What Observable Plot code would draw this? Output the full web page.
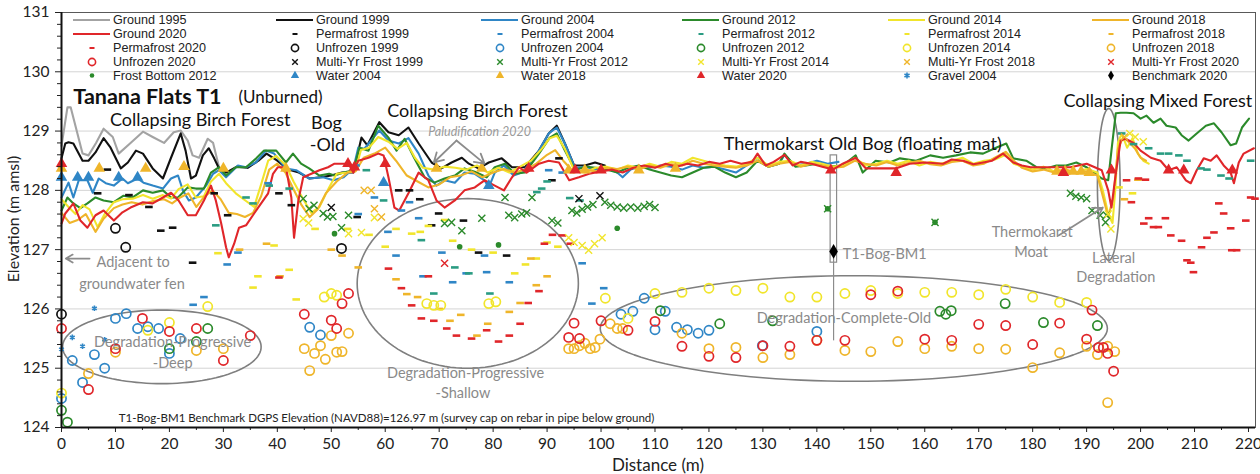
<!DOCTYPE html>
<html><head><meta charset="utf-8">
<script src="https://cdn.jsdelivr.net/npm/d3@7"></script>
<script src="https://cdn.jsdelivr.net/npm/@observablehq/plot@0.6"></script>
<style>body{margin:0;background:#fff} svg{display:block}</style>
</head><body><div id="chart"></div>
<script>
// ---------- colours ----------
const C1995 = "#a3a3a3", C1999 = "#111111", C2004 = "#2f86c6", C2012 = "#2b8a2b",
      C2014 = "#f1e52c", C2018 = "#efb52a", C2020 = "#e0262a", CP2012 = "#2a9c82", GRAY = "#7f7f7f";

// ---------- axes ----------
const xTicks = d3.range(0, 221, 10);
const xMinor = d3.range(5, 221, 10);
const yTicks = [124, 125, 126, 127, 128, 129, 130, 131];
const yMinor = d3.range(124, 131.01, 0.2).filter(v => Math.abs(v - Math.round(v)) > 0.01);

// ---------- ground surfaces [distance m, elevation m] ----------
const ground1995 = [[0,128.75],[1.1,129.4],[1.7,129.4],[3.9,128.62],[5.0,128.59],[6.4,128.8],[7.8,129.04],[9.5,128.9],[10.6,128.62],[12.8,128.8],[15.1,128.99],[16.9,128.9],[19,128.8],[20.8,128.98],[22.1,129.01],[23.4,128.84],[24.3,128.59],[25.5,128.55],[27.1,128.87],[28.1,128.8],[29.2,128.39]];
const ground1999 = [[0,128.54],[0.7,128.79],[1.3,128.81],[2.2,128.79],[3.9,128.5],[5.0,128.5],[6.3,128.64],[7.8,128.88],[9.1,128.72],[11.0,128.37],[12.3,128.47],[13.8,128.67],[15.1,128.62],[16.9,128.37],[18.8,128.2],[20.3,128.55],[22.1,128.96],[23.0,128.67],[24.0,128.2],[24.9,128.25],[26.2,128.59],[27.3,128.71],[28.3,128.54],[29.2,128.37],[30.5,128.3],[32.5,128.4],[34.5,128.38],[36.5,128.5],[38,128.62],[40,128.5],[42,128.35],[44,128.3],[46,128.2],[48,128.22],[50,128.25],[52,128.3],[54.1,128.3],[55.6,128.89],[56.7,128.76],[58.9,129.15],[60.6,128.98],[62.5,128.93],[64.3,129.06],[66.2,128.79],[68.6,128.47],[70.4,128.37],[72.3,128.47],[74.2,128.55],[75.5,128.45],[77.3,128.37],[79.2,128.47],[81.6,128.54],[83.5,128.39],[85.9,128.39],[88.5,128.67],[90.3,128.96],[91.8,129.09],[93.3,128.79],[95,128.42],[97,128.42],[98.9,128.47],[100.7,128.42]];
const ground2004 = [[0,127.88],[1.3,128.13],[2.2,127.88],[3.2,128.17],[4.8,128.17],[5.8,127.96],[6.9,128.2],[8.2,128.12],[9.7,128.08],[11.3,128.2],[12.3,128.12],[14.1,128.2],[15.2,128.13],[16.9,128.08],[18.8,128.03],[20.3,128.2],[21.6,128.25],[22.5,128.0],[23.6,127.83],[24.9,127.88],[26.8,128.08],[28.1,128.28],[29.2,128.34],[30.5,128.22],[32.7,128.42],[34.2,128.39],[36,128.47],[37.9,128.67],[39.4,128.62],[41.6,128.37],[43.5,128.34],[45.9,128.2],[48.5,128.22],[50.4,128.17],[52.3,128.22],[54.1,128.37],[55,128.72],[56.1,128.7],[58.9,129.01],[60.6,128.84],[62.5,128.79],[64.3,128.88],[66.2,128.62],[68,128.25],[69.5,128.08],[71,128.17],[72.9,128.13],[74.7,128.3],[76.6,128.28],[78.4,128.17],[79.2,128.05],[80.3,128.3],[82,128.42],[83.8,128.25],[85.3,128.3],[87.7,128.55],[90.3,128.96],[91.8,129.06],[93.3,128.79],[95.2,128.37],[97,128.4],[99,128.35],[101,128.38],[103,128.3],[104,128.22],[105.5,128.35],[107,128.4],[109,128.38],[111,128.42],[113,128.4],[115,128.35],[117,128.42],[119,128.38],[121,128.4],[123,128.35],[125,128.3],[127,128.42],[129,128.55],[131,128.4],[133,128.45],[134,128.6],[136,128.42],[138,128.45],[140,128.5],[142,128.45],[144,128.48]];
const ground2012 = [[0,127.66],[1.1,127.88],[2.2,127.78],[3.5,127.7],[4.8,127.78],[6.3,127.88],[7.8,127.83],[9.7,127.8],[11.5,127.91],[13.2,127.88],[15.1,128.0],[16.9,127.96],[18.8,128.0],[20.3,127.88],[21.6,127.88],[23.4,128.05],[24.9,128.03],[26.4,128.03],[27.7,128.3],[29.2,128.39],[30.5,128.25],[32.3,128.39],[34.2,128.39],[36.1,128.54],[37.5,128.67],[39.8,128.67],[41.6,128.47],[42.9,128.62],[44.4,128.45],[45.9,128.37],[47.8,128.25],[49.6,128.28],[50.6,128.25],[52.3,128.3],[54.1,128.34],[55.2,128.72],[56.9,128.67],[58.7,129.09],[60.6,128.89],[62.1,128.67],[63.6,128.87],[65.4,128.54],[67.3,128.22],[69.1,128.13],[71,128.2],[72.9,128.25],[74.7,128.37],[77,128.3],[78.8,128.22],[80.3,128.39],[82.2,128.45],[84,128.28],[85.9,128.3],[88.5,128.62],[90.5,128.89],[91.8,128.96],[93.3,128.67],[95.2,128.34],[97,128.4],[99,128.38],[101,128.35],[103,128.3],[105,128.38],[107,128.42],[109,128.35],[111,128.3],[113,128.25],[115,128.22],[117,128.3],[119,128.38],[121,128.4],[123,128.3],[125,128.22],[127,128.3],[129,128.5],[131,128.4],[133,128.45],[134,128.62],[136,128.4],[138,128.42],[140,128.45],[142,128.4],[144.8,128.42],[147.2,128.59],[148.5,128.3],[150.9,128.5],[153.5,128.47],[155.4,128.54],[158.4,128.5],[161,128.59],[163.4,128.55],[165.8,128.59],[168.4,128.64],[170.8,128.62],[173.2,128.72],[175.1,128.79],[176.4,128.54],[178.8,128.5],[180.7,128.39],[182.5,128.37],[184.4,128.42],[186.2,128.42],[188.1,128.47],[190,128.39],[192.8,128.2],[194,128.17],[194.6,128.67],[195.4,129.3],[196.3,129.31],[197.4,129.31],[198.7,129.3],[200,129.21],[201.1,129.26],[202.4,129.14],[203.7,129.21],[204.8,129.09],[206.5,129.06],[207.6,128.93],[208.9,128.84],[210.4,128.96],[212.1,129.09],[213.6,129.13],[215,128.98],[216.7,128.76],[217.7,128.79],[218.8,129.06],[220.1,129.21]];
const ground2014 = [[0,127.85],[1.3,127.72],[2.6,127.6],[3.9,127.75],[5.2,127.68],[6.7,127.38],[8,127.6],[9.7,127.8],[11.3,127.85],[13.2,127.86],[15.1,127.92],[16.9,127.86],[18.8,127.92],[20.3,127.86],[21.7,128.02],[23.4,128.1],[24.9,127.88],[26.4,127.9],[27.7,128.15],[29.2,128.28],[30.5,128.12],[32.3,127.95],[34.2,127.82],[35.7,127.72],[37,128.1],[38.3,128.5],[39.8,128.58],[41.6,128.42],[43,128.15],[44.8,127.85],[46.3,127.62],[47.8,127.72],[49.6,128.05],[51,128.28],[53,128.3],[54.5,128.35],[55.5,128.68],[57,128.72],[58.7,128.9],[60.6,128.82],[62.3,128.7],[64,128.8],[65.5,128.55],[67,128.38],[69,128.35],[71,128.4],[73,128.38],[75,128.35],[77,128.42],[79,128.3],[81,128.38],[83,128.3],[85,128.4],[87,128.5],[89,128.7],[90.5,128.88],[91.8,128.92],[93.3,128.7],[95,128.34],[97,128.3],[99,128.38],[101,128.4],[103,128.35],[105,128.42],[107,128.38],[109,128.45],[111,128.4],[113,128.48],[115,128.45],[117,128.55],[119,128.5],[121,128.45],[123,128.42],[125,128.4],[127,128.45],[129,128.55],[131,128.42],[133,128.48],[135,128.5],[137,128.42],[139,128.48],[141,128.45],[143,128.4],[145,128.42],[147,128.55],[149,128.42],[151,128.45],[153,128.5],[155,128.45],[157,128.5],[159,128.42],[161,128.48],[163,128.45],[165,128.5],[167,128.55],[169,128.45],[171,128.5],[173,128.52],[175,128.6],[176.5,128.45],[178,128.4],[180,128.35],[182,128.4],[184,128.32],[186,128.35],[188,128.3],[190,128.36],[192,128.3],[193,128.0],[194,127.6],[194.8,127.45],[195.3,128.0],[195.8,128.8],[196.5,128.96],[197.5,128.72],[198.5,128.88],[199.5,128.62],[200.5,128.5],[201.5,128.45]];
const ground2018 = [[0,127.62],[1.5,127.45],[3,127.5],[4.5,127.6],[6.3,127.3],[7.8,127.52],[9.7,127.7],[11.3,127.76],[13,127.8],[15,127.76],[17,127.82],[19,127.85],[20.5,127.78],[22,127.88],[23.5,127.95],[25,127.72],[26.5,127.9],[28,128.0],[29.5,127.85],[31,127.62],[32.5,127.6],[34,127.55],[35.5,127.62],[37,127.9],[38.5,128.35],[40,128.45],[41.5,128.3],[43,128.02],[44.5,127.75],[46,127.55],[47.5,127.68],[49,127.95],[51,128.15],[53,128.3],[54.5,128.32],[56,128.55],[58,128.62],[60,128.72],[62,128.5],[64,128.25],[66,128.15],[68,128.05],[70,128.1],[72,128.22],[74,128.25],[76,128.32],[78,128.22],[80,128.3],[82,128.36],[84,128.3],[86,128.35],[88,128.45],[90,128.6],[91.5,128.68],[93,128.5],[95,128.3],[97,128.35],[99,128.32],[101,128.38],[103,128.36],[105,128.4],[107,128.35],[109,128.42],[111,128.38],[113,128.44],[115,128.42],[117,128.5],[119,128.45],[121,128.42],[123,128.4],[125,128.38],[127,128.42],[129,128.5],[131,128.4],[133,128.45],[135,128.48],[137,128.4],[139,128.45],[141,128.42],[143,128.38],[145,128.4],[147,128.5],[149,128.45],[151,128.42],[153,128.48],[155,128.42],[157,128.46],[159,128.5],[161,128.44],[163,128.42],[165,128.48],[167,128.5],[169,128.42],[171,128.45],[173,128.55],[175,128.65],[176.5,128.5],[178,128.38],[180,128.32],[182,128.35],[184,128.3],[186,128.35],[188,128.3],[190,128.32],[192,128.25],[193,127.9],[194,127.55],[195,127.9],[195.8,128.7],[196.8,128.9],[198,128.8],[199,128.7],[200,128.55],[201,128.5]];
const ground2020 = [[0,127.44],[0.7,127.61],[2.2,127.78],[3.5,127.49],[4.8,127.37],[6.3,127.58],[7.8,127.66],[9.7,127.49],[11.3,127.63],[12.8,127.71],[15.1,127.8],[16.9,127.78],[18.8,127.88],[20.3,127.96],[21.7,127.83],[23.4,127.58],[24.9,127.58],[26.4,127.83],[27.7,128.08],[28.6,127.83],[29.6,127.44],[30.5,127.04],[31,126.87],[32,127.1],[32.9,127.37],[34.2,127.41],[35.7,127.61],[37,127.78],[38.3,127.95],[39.2,128.28],[40.1,128.39],[41.6,128.39],[42.6,127.88],[43.1,127.2],[43.9,127.83],[44.8,128.22],[46.3,128.28],[47.8,128.34],[49.4,128.39],[50.6,128.45],[53.2,128.45],[54.1,128.3],[55,128.5],[56.9,128.55],[58.7,128.62],[59.7,128.59],[60.6,128.22],[61.7,127.71],[62.6,127.66],[64.3,127.95],[66.2,128.3],[68,128.17],[69.5,127.83],[71,127.71],[72.9,127.83],[74.7,128.0],[76.6,128.05],[78.4,128.17],[80.3,128.08],[82,128.0],[83.5,128.22],[84.8,128.39],[86.2,128.3],[88.5,128.45],[90.3,128.5],[92.2,128.47],[94.1,128.17],[95.9,128.22],[97.8,128.28],[100,128.32],[102,128.35],[104,128.3],[106,128.38],[108,128.42],[110,128.38],[112,128.45],[114,128.4],[116,128.45],[118,128.42],[120,128.48],[122,128.45],[124,128.5],[126,128.45],[128,128.48],[129,128.62],[130.5,128.42],[132,128.48],[134,128.6],[135.5,128.42],[137,128.48],[139,128.45],[141,128.4],[143,128.35],[144.8,128.45],[147.2,128.55],[149.1,128.37],[152,128.37],[154.6,128.37],[157.2,128.45],[160.2,128.47],[163.4,128.45],[165,128.52],[167.1,128.5],[169,128.44],[170.8,128.47],[172.5,128.5],[174.5,128.62],[176.4,128.47],[178,128.42],[179.6,128.39],[182,128.39],[183.8,128.39],[187,128.39],[190,128.45],[192.8,128.34],[194,128.0],[194.6,127.71],[195.4,128.28],[196.3,128.84],[197.2,128.87],[198.7,128.8],[200,128.67],[201.9,128.55],[203.7,128.5],[205.2,128.34],[206.7,128.39],[208.4,128.17],[209.3,128.12],[210.4,128.34],[211.7,128.54],[213,128.5],[214.1,128.59],[215.4,128.42],[216.7,128.3],[217.3,128.12],[218.2,128.47],[219.1,128.62],[221,128.71]];

// ---------- permafrost tops (dashes) ----------
const perm1999 = [[6.7,127.95],[8.5,128.35],[12.5,127.92],[16.2,127.72],[18.4,127.32],[20.6,127.37],[24.3,126.78],[28.3,127.95],[30.8,127.58],[40.3,127.95],[42.6,127.75],[54.8,127.55],[62.5,128.0],[64.5,128.0],[66.4,127.85],[68.6,127.41],[69.9,127.61],[74.5,127.49],[77.3,126.95],[82.5,126.9],[90.9,128.17],[92.2,128.54]];
const perm2004 = [[24.4,126.07],[26.4,126.2],[30.7,126.75],[32.7,126.95],[38.3,128.12],[54.6,128.42],[55,127.6],[58,127.88],[63,127.66],[64.5,127.8],[66.2,127.53],[60.5,127.3],[62,126.9],[67,126.55],[70.5,126.95],[72.5,126.45],[75,126.6],[78.4,126.9],[78.8,126.62],[83,126.45],[90.3,128.34],[92.8,128.3],[96.5,126.77],[98.3,126.09],[100.5,126.35]];
const perm2012 = [[28.6,127.41],[34.2,127.88],[35.5,127.78],[38.5,128.08],[42.2,128.03],[56.5,128.34],[59.7,127.83],[66.7,127.16],[69,126.26],[72.9,126.7],[75.5,126.6],[79.4,126.26],[88.1,127.97],[89,128.03],[90,128.15],[94.2,127.87],[96.1,127.83],[196.5,128.96],[198.7,128.78],[201.5,128.71],[203.7,128.62],[205.2,128.62],[207.1,128.59],[208.6,128.5],[211.2,128.37],[212.3,128.35],[214.9,128.25],[216.4,128.2],[220.4,128.5]];
const perm2014 = [[29,126.94],[35.5,126.36],[36.4,126.55],[39.4,127.07],[42.2,126.66],[43.5,126.16],[47,127.35],[53,127.35],[57,127.25],[60,127.05],[62,127.35],[64.9,127.27],[66.5,127.3],[68,127.4],[71,127.5],[72.5,127.15],[76,127.0],[80,126.95],[84,126.6],[86,126.75],[88,126.85],[90,127.12],[92,127.05],[196,128.05],[198.5,127.95]];
const perm2018 = [[33,127.0],[38,127.1],[40.5,126.55],[50,127.0],[52,126.9],[55,126.7],[62,126.5],[64,126.25],[66,126.2],[70,126.0],[72,125.8],[74,125.9],[77,125.55],[79,125.75],[83,125.95],[85,126.1],[87,126.85],[88,126.4],[90,126.55],[197,127.85],[199.5,128.18]];
const perm2020 = [[40.3,126.53],[60.6,126.68],[63,126.35],[64.9,126.06],[66.7,125.84],[68,126.55],[69,125.8],[71.4,125.67],[73.2,125.55],[76,125.5],[78.8,125.64],[81,125.45],[83,125.55],[85,125.75],[86.5,126.1],[88.5,126.3],[89.5,127.1],[91,127.25],[92.8,127.24],[94.3,127.1],[197.4,128.17],[199.6,128.2],[200.9,128.18],[198.3,127.8],[201.5,127.53],[200.6,127.44],[202.4,127.38],[203.3,127.38],[204.6,127.53],[205.6,127.24],[207.6,127.15],[208.6,126.82],[209.3,126.78],[209.8,126.62],[211.3,127.04],[212.3,127.2],[213.6,127.29],[214.5,127.78],[215.4,127.61],[216.7,127.36],[216.9,126.99],[217.8,126.99],[219.5,127.49],[220.4,127.88],[221.2,127.86]];

// ---------- unfrozen (open circles) ----------
const unf1999 = [[0,125.91],[10,127.36],[11.9,127.04],[51.9,127.02]];
const unf2004 = [[0,124.49],[2,125.13],[3.9,124.76],[6.1,125.23],[8,125.0],[10,125.84],[12,125.92],[14.1,125.67],[16,125.7],[18,125.67],[20,125.25],[22,125.5],[46,125.69],[48,125.56],[103.7,125.91],[105.9,125.96],[108,126.18],[110,125.65],[111.9,125.96],[114,125.69],[116,125.65],[118,125.59],[120,125.64],[129.9,125.38],[140,125.62]];
const unf2012 = [[0,124.29],[1.1,124.09],[20,125.33],[25,125.45],[27.1,125.67],[111,125.97],[122,125.75],[131.8,125.8],[162.8,125.96],[163.9,125.91],[164.9,125.97],[174.9,126.09],[182,125.77],[192,125.72]];
const unf2014 = [[0,124.58],[16,125.64],[20,125.77],[27.1,126.04],[48.7,126.2],[50,126.26],[51,126.23],[67.7,126.09],[69,126.06],[70.3,126.06],[79.2,126.09],[80.5,126.12],[100.8,126.18],[105,125.84],[110,126.26],[115,126.28],[120,126.35],[125,126.31],[130,126.35],[135,126.2],[140,126.2],[145.2,126.26],[150,126.31],[155,126.26],[160,126.28],[165,126.28],[170,126.24],[175,126.33],[180,126.2],[185,126.11],[190,126.11]];
const unf2018 = [[5,124.91],[10,125.27],[25,125.3],[30,125.33],[45,125.33],[46,124.96],[46.9,125.25],[48,125.38],[48.9,125.15],[50,125.55],[51,125.27],[52,125.28],[53.2,125.59],[94,125.33],[95,125.33],[96,125.38],[97,125.42],[98,125.33],[98.9,125.35],[99.8,125.49],[101.7,125.75],[103,125.67],[104,125.67],[115,125.59],[120,125.33],[125,125.35],[130,125.18],[135,125.23],[140,125.47],[145.2,125.3],[150,125.28],[155,125.45],[160,125.33],[165,125.37],[170,125.33],[175,125.32],[180,125.01],[185,125.26],[190,125.37],[192,125.23],[193.9,125.37],[195.2,125.28],[193.9,124.42]];
const unf2020 = [[0,125.67],[5,124.64],[10,125.33],[15,125.84],[20,125.62],[25,125.67],[30,125.13],[35,125.55],[45,125.91],[50,125.81],[51,125.67],[52,126.09],[53.2,126.26],[94,125.52],[95,125.76],[96,125.5],[100,125.8],[105,125.64],[110,125.79],[115,125.37],[120,125.2],[125,125.18],[130,125.38],[135,125.37],[140,125.47],[145.2,125.47],[150,126.24],[155,126.3],[160,125.49],[165,125.47],[170,125.74],[175,125.72],[180,125.4],[185,125.76],[190,125.49],[191,125.98],[192.2,125.35],[193.1,125.35],[193.9,125.25],[195,124.95]];

// ---------- multi-year frost (x) ----------
const myf1999 = [[50,127.71],[95.9,127.86],[99.8,127.91]];
const myf2012 = [[44.8,127.86],[45.9,127.69],[46.8,127.75],[48.5,127.61],[49.3,127.55],[50.3,127.56],[51.9,127.37],[53.2,127.58],[71,127.44],[72.3,127.46],[74.2,127.32],[77.9,127.53],[82.2,127.88],[82.9,127.58],[84,127.54],[85.3,127.6],[86.2,127.62],[87.2,127.88],[90.9,127.49],[92,127.45],[94.6,127.66],[95.5,127.62],[96.5,127.68],[97.5,127.72],[98.5,127.76],[100.7,127.8],[101.8,127.75],[103,127.72],[104.2,127.7],[105.5,127.72],[106.8,127.7],[108,127.73],[109,127.76],[110,127.71],[142,127.69],[161.9,127.46],[187,127.95],[188,127.9],[189,127.88],[190,127.86],[191,127.66],[192.5,127.58],[193.7,127.58],[193.5,127.46]];
const myf2014 = [[44.8,127.52],[45.8,127.45],[53.2,127.27],[55.6,127.29],[58,127.54],[94,127.2],[95,127.12],[96.5,127.07],[97.7,126.99],[98.8,127.1],[100.2,127.2],[194,127.6],[194.5,127.35],[198,128.96],[199,128.9],[200.5,128.82]];
const myf2018 = [[56.1,128.0],[57.4,128.0],[58,127.69],[59.3,127.55],[197,128.9]];
const myf2020 = [[71,126.77]];

// ---------- other point series ----------
const frostBottom2012 = [[50.6,127.27],[73.8,127.05],[81,127.08],[103,127.36],[142,127.69],[161.9,127.46]];
const water2004 = [[0,128.22],[3,128.22],[5,128.22],[10.6,128.22],[14.1,128.22],[59.7,128.13],[79.2,128.08]];
const water2018 = [[0,128.37],[7,128.37],[15.6,128.37],[22.7,128.4],[30,128.37],[41.6,128.37],[69.5,128.37],[77.9,128.37],[94,128.34],[97,128.34],[107,128.34],[113.8,128.37],[184.5,128.32],[186,128.32],[187.5,128.32],[189,128.32],[190.5,128.3]];
const water2020 = [[0,128.45],[53.1,128.45],[54.3,128.39],[60,128.45],[86.6,128.37],[95.2,128.34],[100,128.34],[142.6,128.34],[154.7,128.3],[185.7,128.3],[194.6,128.34],[205.2,128.34],[208,128.34],[217,128.34]];
const gravel2004 = [[0,125.32],[2,125.52],[3.9,125.37],[6.1,126.01],[8,125.48]];
const benchmark2020 = [[143.1,126.97]];

// ---------- annotation shapes (data units) ----------
const ellipses = [
  {cx: 18.6, cy: 125.36, rx: 18.4, ry: 0.62},
  {cx: 75.3, cy: 126.43, rx: 20.5, ry: 1.43},
  {cx: 146.85, cy: 125.67, rx: 47.0, ry: 0.89},
  {cx: 194.1, cy: 128.1, rx: 2.1, ry: 1.28}
];
const pipe = [{x1: 142.55, x2: 143.75, y1: 126.78, y2: 128.59}];
const bmLine = [{x1: 143.1, y1: 126.97, x2: 143.1, y2: 125.47}];
const arrows = [
  {x1: 73.2, y1: 128.84, x2: 69.0, y2: 128.47},
  {x1: 73.2, y1: 128.84, x2: 78.4, y2: 128.45},
  {x1: 184.8, y1: 127.24, x2: 193.0, y2: 127.71},
  {x1: 5.2, y1: 126.85, x2: 0.8, y2: 126.85}
];

// ---------- annotation texts ----------
const blackLabels = [
  {x: 25.7, y: 129.19, t: "Collapsing Birch Forest"},
  {x: 49.1, y: 129.13, t: "Bog"},
  {x: 49.3, y: 128.76, t: "-Old"},
  {x: 77.1, y: 129.33, t: "Collapsing Birch Forest"},
  {x: 148.5, y: 128.78, t: "Thermokarst Old Bog (floating mat)"},
  {x: 203.2, y: 129.5, t: "Collapsing Mixed Forest"}
];
const grayLabels = [
  {x: 20.6, y: 125.44, t: "Degradation-Progressive"},
  {x: 20.6, y: 125.08, t: "-Deep"},
  {x: 74.9, y: 124.91, t: "Degradation-Progressive"},
  {x: 74.4, y: 124.58, t: "-Shallow"},
  {x: 145.0, y: 125.84, t: "Degradation-Complete-Old"},
  {x: 179.9, y: 127.29, t: "Thermokarst"},
  {x: 179.7, y: 126.95, t: "Moat"},
  {x: 195.0, y: 126.85, t: "Lateral"},
  {x: 195.4, y: 126.53, t: "Degradation"}
];
const grayLeftLabels = [
  {x: 6.5, y: 126.78, t: "Adjacent to"},
  {x: 3.3, y: 126.41, t: "groundwater fen"},
  {x: 144.8, y: 126.92, t: "T1-Bog-BM1"}
];

// ---------- helpers ----------
const pts = a => a.map(([x, y]) => ({x, y}));
const dashSymbol = {draw(ctx) { ctx.moveTo(-3.8, -1.3); ctx.lineTo(3.8, -1.3); ctx.lineTo(3.8, 1.3); ctx.lineTo(-3.8, 1.3); ctx.closePath(); }};
const ellipsePts = e => d3.range(0, 361, 3).map(a => ({x: e.cx + e.rx * Math.cos(a * Math.PI / 180), y: e.cy + e.ry * Math.sin(a * Math.PI / 180)}));

const groundSeries = [[ground1995, C1995], [ground1999, C1999], [ground2004, C2004], [ground2012, C2012], [ground2014, C2014], [ground2018, C2018], [ground2020, C2020]];
const dashSeries = [[perm1999, C1999], [perm2004, C2004], [perm2012, CP2012], [perm2014, C2014], [perm2018, C2018], [perm2020, C2020]];
const circleSeries = [[unf1999, C1999], [unf2004, C2004], [unf2012, C2012], [unf2014, C2014], [unf2018, C2018], [unf2020, C2020]];
const xSeries = [[myf1999, C1999], [myf2012, C2012], [myf2014, C2014], [myf2018, C2018], [myf2020, C2020]];

const FONT = "Lato, 'Open Sans', sans-serif";

const chart = Plot.plot({
  width: 1260, height: 474,
  marginLeft: 61, marginRight: 5, marginTop: 12, marginBottom: 47,
  style: {fontFamily: FONT, background: "#fff", overflow: "visible"},
  x: {domain: [0, 221.3]},
  y: {domain: [124, 131]},
  marks: [
    Plot.gridY(yTicks.slice(1, -1), {stroke: "#d4d4d4", strokeOpacity: 1, strokeWidth: 1}),
    Plot.frame({stroke: "#595959", strokeWidth: 1}),
    ...ellipses.map(e => Plot.line(ellipsePts(e), {x: "x", y: "y", stroke: GRAY, strokeWidth: 1.6, curve: "linear"})),
    Plot.rect(pipe, {x1: "x1", x2: "x2", y1: "y1", y2: "y2", fill: "none", stroke: "#8c8c8c", strokeWidth: 1.2}),
    Plot.link(bmLine, {x1: "x1", y1: "y1", x2: "x2", y2: "y2", stroke: "#8c8c8c", strokeWidth: 1.2}),
    ...groundSeries.map(([a, c]) => Plot.line(pts(a), {x: "x", y: "y", stroke: c, strokeWidth: 2.1})),
    ...dashSeries.map(([a, c]) => Plot.dot(pts(a), {x: "x", y: "y", symbol: dashSymbol, fill: c, r: 4})),
    ...circleSeries.map(([a, c]) => Plot.dot(pts(a), {x: "x", y: "y", r: 4.6, stroke: c, strokeWidth: 1.7, fill: "none"})),
    ...xSeries.map(([a, c]) => Plot.dot(pts(a), {x: "x", y: "y", symbol: "times", r: 3.3, stroke: c, strokeWidth: 1.4})),
    Plot.dot(pts(frostBottom2012), {x: "x", y: "y", r: 2.8, fill: C2012}),
    Plot.dot(pts(water2004), {x: "x", y: "y", symbol: "triangle", r: 4.3, fill: C2004}),
    Plot.dot(pts(water2018), {x: "x", y: "y", symbol: "triangle", r: 4.3, fill: C2018}),
    Plot.dot(pts(water2020), {x: "x", y: "y", symbol: "triangle", r: 4.3, fill: C2020}),
    Plot.dot(pts(gravel2004), {x: "x", y: "y", symbol: "asterisk", r: 2.6, stroke: C2004, strokeWidth: 1.6}),
    Plot.dot(pts(benchmark2020), {x: "x", y: "y", symbol: "diamond", r: 4.5, fill: "#000"}),
    Plot.arrow(arrows, {x1: "x1", y1: "y1", x2: "x2", y2: "y2", stroke: "#8c8c8c", strokeWidth: 1.8, headLength: 9}),
    Plot.text(blackLabels, {x: "x", y: "y", text: "t", fontSize: 18, fill: "#111", fontFamily: FONT}),
    Plot.text([{x: 2.2, y: 129.565, t: "Tanana Flats T1"}], {x: "x", y: "y", text: "t", textAnchor: "start", fontSize: 21.5, fontWeight: "bold", fill: "#111", fontFamily: FONT}),
    Plot.text([{x: 32.8, y: 129.565, t: "(Unburned)"}], {x: "x", y: "y", text: "t", textAnchor: "start", fontSize: 17, fill: "#111", fontFamily: FONT}),
    Plot.text([{x: 77.5, y: 128.98, t: "Paludification 2020"}], {x: "x", y: "y", text: "t", fontSize: 12.5, fontStyle: "italic", fill: "#9a9a9a", fontFamily: FONT}),
    Plot.text(grayLabels, {x: "x", y: "y", text: "t", fontSize: 14.5, fill: "#8a8a8a", fontFamily: FONT}),
    Plot.text(grayLeftLabels, {x: "x", y: "y", text: "t", textAnchor: "start", fontSize: 14.5, fill: "#8a8a8a", fontFamily: FONT}),
    Plot.text([{x: 10.6, y: 124.15, t: "T1-Bog-BM1 Benchmark DGPS Elevation (NAVD88)=126.97 m (survey cap on rebar in pipe below ground)"}], {x: "x", y: "y", text: "t", textAnchor: "start", fontSize: 11.5, fill: "#222", fontFamily: FONT}),
    Plot.axisY(yTicks, {tickSize: 6, tickPadding: 6, fontSize: 15.5, color: "#222", label: null, tickFormat: d3.format("d")}),
    Plot.axisY(yMinor, {tickSize: 4, tickFormat: () => "", label: null, color: "#222"}),
    Plot.axisX(xTicks, {tickSize: 5, tickPadding: 5, fontSize: 15.5, color: "#222", label: null, tickFormat: d3.format("d")}),
    Plot.axisX(xMinor, {tickSize: 3, tickFormat: () => "", label: null, color: "#222"}),
    Plot.ruleX([0], {stroke: "#111", strokeWidth: 2}),
    Plot.ruleY([124], {stroke: "#111", strokeWidth: 2})
  ]
});

// ---------- legend and axis titles ----------
const legendItems = [
  ["Ground 1995","line",C1995],["Ground 1999","line",C1999],["Ground 2004","line",C2004],["Ground 2012","line",C2012],["Ground 2014","line",C2014],["Ground 2018","line",C2018],
  ["Ground 2020","line",C2020],["Permafrost 1999","dash",C1999],["Permafrost 2004","dash",C2004],["Permafrost 2012","dash",CP2012],["Permafrost 2014","dash",C2014],["Permafrost 2018","dash",C2018],
  ["Permafrost 2020","dash",C2020],["Unfrozen 1999","circle",C1999],["Unfrozen 2004","circle",C2004],["Unfrozen 2012","circle",C2012],["Unfrozen 2014","circle",C2014],["Unfrozen 2018","circle",C2018],
  ["Unfrozen 2020","circle",C2020],["Multi-Yr Frost 1999","x",C1999],["Multi-Yr Frost 2012","x",C2012],["Multi-Yr Frost 2014","x",C2014],["Multi-Yr Frost 2018","x",C2018],["Multi-Yr Frost 2020","x",C2020],
  ["Frost Bottom 2012","dot",C2012],["Water 2004","tri",C2004],["Water 2018","tri",C2018],["Water 2020","tri",C2020],["Gravel 2004","ast",C2004],["Benchmark 2020","diamond","#000"]
];
const legendColX = [113, 316, 521, 722, 928, 1132];
const legendRowY = [20, 34, 48, 62, 75.5];

const svg = d3.select(chart);
const lg = svg.append("g").attr("font-family", "'Liberation Sans', Arial, sans-serif").attr("font-size", 12.6).attr("fill", "#222").attr("text-anchor", "start");
legendItems.forEach(([label, kind, color], i) => {
  const tx = legendColX[i % 6], ty = legendRowY[Math.floor(i / 6)], sx = tx - 21;
  const g = lg.append("g");
  if (kind === "line") g.append("line").attr("x1", tx - 40).attr("x2", tx - 3).attr("y1", ty).attr("y2", ty).attr("stroke", color).attr("stroke-width", 2);
  else if (kind === "dash") g.append("rect").attr("x", sx - 2.5).attr("y", ty - 1).attr("width", 5).attr("height", 2).attr("fill", color);
  else if (kind === "circle") g.append("circle").attr("cx", sx).attr("cy", ty).attr("r", 3.6).attr("fill", "none").attr("stroke", color).attr("stroke-width", 1.6);
  else if (kind === "x") g.append("path").attr("d", d3.symbol(d3.symbolTimes, 22)()).attr("transform", `translate(${sx},${ty})`).attr("stroke", color).attr("stroke-width", 1.4).attr("fill", "none");
  else if (kind === "dot") g.append("circle").attr("cx", sx).attr("cy", ty).attr("r", 2.3).attr("fill", color);
  else if (kind === "tri") g.append("path").attr("d", d3.symbol(d3.symbolTriangle, 30)()).attr("transform", `translate(${sx},${ty})`).attr("fill", color);
  else if (kind === "ast") g.append("path").attr("d", d3.symbol(d3.symbolAsterisk, 24)()).attr("transform", `translate(${sx},${ty})`).attr("stroke", color).attr("stroke-width", 1.6).attr("fill", "none");
  else if (kind === "diamond") g.append("path").attr("d", d3.symbol(d3.symbolDiamond, 30)()).attr("transform", `translate(${sx},${ty})`).attr("fill", color);
  g.append("text").attr("x", tx).attr("y", ty).attr("dy", "0.35em").attr("text-anchor", "start").text(label);
});

svg.append("text").attr("transform", "translate(13,219) rotate(-90)").attr("text-anchor", "middle").attr("dy", "0.35em")
  .attr("font-family", FONT).attr("font-size", 16).attr("fill", "#222").text("Elevation (m amsl)");
svg.append("text").attr("x", 658).attr("y", 465).attr("text-anchor", "middle").attr("dy", "0.35em")
  .attr("font-family", FONT).attr("font-size", 17).attr("fill", "#222").text("Distance (m)");

document.getElementById("chart").appendChild(chart);
</script></body></html>
